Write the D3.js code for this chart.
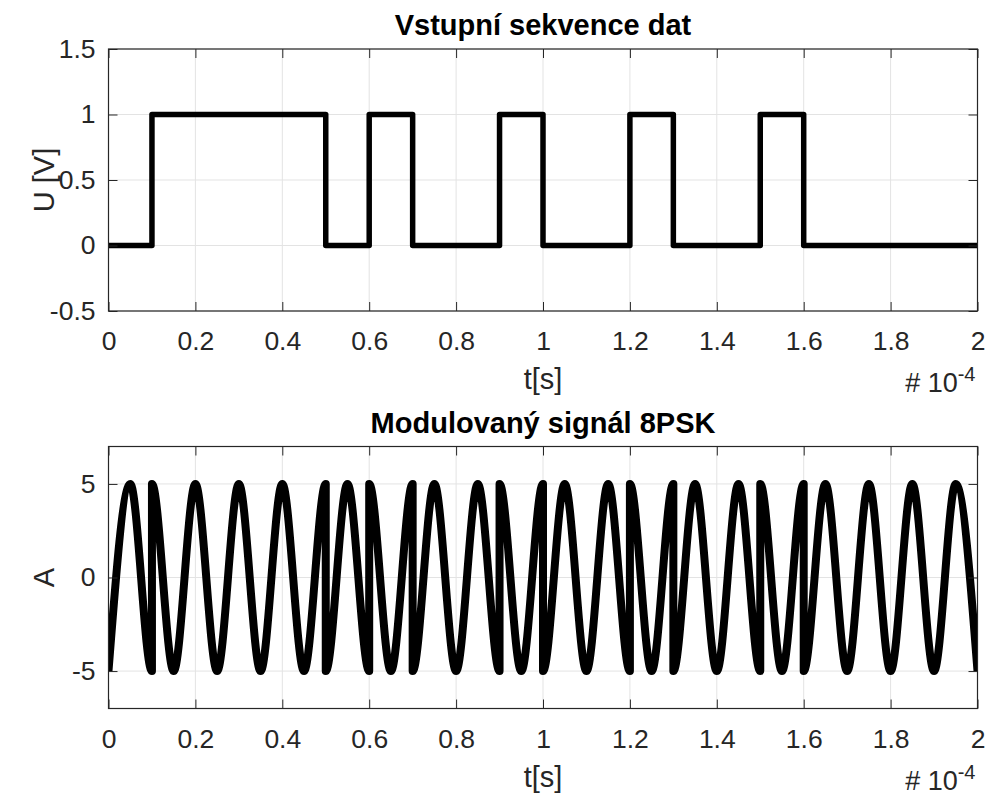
<!DOCTYPE html>
<html>
<head>
<meta charset="utf-8">
<script src="https://cdn.jsdelivr.net/npm/d3@7"></script>
<style>
  body { margin: 0; background: #fff; }
  text { font-family: "Liberation Sans", Arial, sans-serif; fill: #262626; }
</style>
</head>
<body>
<svg id="chart" width="985" height="794"></svg>
<script>
// time axis is in units of 1e-4 s
var bitTimes = [0, 0.1, 0.2, 0.3, 0.4, 0.5, 0.6, 0.7, 0.8, 0.9, 1.0, 1.1, 1.2, 1.3, 1.4, 1.5, 1.6, 1.7, 1.8, 1.9, 2.0];
var bitValues = [0, 1, 1, 1, 1, 0, 1, 0, 0, 1, 0, 0, 1, 0, 0, 1, 0, 0, 0, 0, 0];

// peaks / troughs of the modulated signal
// (a repeated time means a phase jump)
var sigTimes = [0, 0.05, 0.1, 0.1, 0.15, 0.2, 0.25, 0.3, 0.35, 0.4, 0.45, 0.5, 0.5, 0.55, 0.6, 0.6, 0.65,
                0.7, 0.7, 0.75, 0.8, 0.85, 0.9, 0.9, 0.95, 1.0, 1.0, 1.05, 1.1, 1.15, 1.2, 1.2, 1.25,
                1.3, 1.3, 1.35, 1.4, 1.45, 1.5, 1.5, 1.55, 1.6, 1.6, 1.65, 1.7, 1.75, 1.8, 1.85, 1.9, 1.95, 2.0];
var sigValues = [-5, 5, -5, 5, -5, 5, -5, 5, -5, 5, -5, 5, -5, 5, -5, 5, -5,
                 5, -5, 5, -5, 5, -5, 5, -5, 5, -5, 5, -5, 5, -5, 5, -5,
                 5, -5, 5, -5, 5, -5, 5, -5, 5, -5, 5, -5, 5, -5, 5, -5, 5, -5];

var xTicks = [0, 0.2, 0.4, 0.6, 0.8, 1, 1.2, 1.4, 1.6, 1.8, 2];
var yTicksTop = [-0.5, 0, 0.5, 1, 1.5];
var yTicksBottom = [-5, 0, 5];

var svg = d3.select("#chart");

// plain labels with a hyphen minus, like the original
function plain(d) { return String(d); }

function drawPanel(opt) {
    var x = d3.scaleLinear().domain([0, 2]).range([opt.left, opt.right]),
        y = d3.scaleLinear().domain(opt.yDomain).range([opt.bottom, opt.top]);
    var g = svg.append("g");

    // grid
    g.selectAll(".gx").data(xTicks).enter().append("line")
        .attr("x1", function (d) { return x(d); }).attr("x2", function (d) { return x(d); })
        .attr("y1", opt.top).attr("y2", opt.bottom)
        .attr("stroke", "#e3e3e3").attr("stroke-width", 1);
    g.selectAll(".gy").data(opt.yTicks).enter().append("line")
        .attr("x1", opt.left).attr("x2", opt.right)
        .attr("y1", function (d) { return y(d); }).attr("y2", function (d) { return y(d); })
        .attr("stroke", "#e3e3e3").attr("stroke-width", 1);

    // data line, clipped to the box
    var clipId = "clip" + opt.id;
    svg.append("clipPath").attr("id", clipId).append("rect")
        .attr("x", opt.left).attr("y", opt.top)
        .attr("width", opt.right - opt.left).attr("height", opt.bottom - opt.top);
    var line = d3.line()
        .x(function (d) { return x(d[0]); })
        .y(function (d) { return y(d[1]); })
        .curve(opt.curve);
    g.append("path")
        .datum(d3.zip(opt.xs, opt.ys))
        .attr("clip-path", "url(#" + clipId + ")")
        .attr("d", line)
        .attr("fill", "none")
        .attr("stroke", "#000")
        .attr("stroke-width", opt.lineWidth)
        .attr("stroke-linejoin", "round");

    // axes with inward ticks on all four sides
    var tl = 9;
    g.append("g").attr("transform", "translate(0," + opt.bottom + ")")
        .call(d3.axisBottom(x).tickValues(xTicks).tickSizeInner(-tl).tickSizeOuter(0).tickFormat(plain))
        .call(styleAxis)
        .selectAll("text").attr("dy", null).attr("y", 39).style("font-size", "26.5px");
    g.append("g").attr("transform", "translate(0," + opt.top + ")")
        .call(d3.axisTop(x).tickValues(xTicks).tickSizeInner(-tl).tickSizeOuter(0).tickFormat(""))
        .call(styleAxis);
    g.append("g").attr("transform", "translate(" + opt.left + ",0)")
        .call(d3.axisLeft(y).tickValues(opt.yTicks).tickSizeInner(-tl).tickSizeOuter(0).tickFormat(plain))
        .call(styleAxis)
        .selectAll("text").attr("x", -13).style("font-size", "26.5px");
    g.append("g").attr("transform", "translate(" + opt.right + ",0)")
        .call(d3.axisRight(y).tickValues(opt.yTicks).tickSizeInner(-tl).tickSizeOuter(0).tickFormat(""))
        .call(styleAxis);

    // title and labels
    g.append("text").attr("x", (opt.left + opt.right) / 2).attr("y", opt.top - 14)
        .attr("text-anchor", "middle").attr("font-size", 29).attr("font-weight", "bold")
        .style("fill", "#000").text(opt.title);
    g.append("text").attr("x", (opt.left + opt.right) / 2).attr("y", opt.bottom + 78)
        .attr("text-anchor", "middle").attr("font-size", 29).text("t[s]");
    g.append("text")
        .attr("transform", "translate(54," + (opt.top + opt.bottom) / 2 + ") rotate(-90)")
        .attr("text-anchor", "middle").attr("font-size", 29).text(opt.ylabel);
    var ex = g.append("text").attr("x", opt.right - 2).attr("y", opt.bottom + 81)
        .attr("text-anchor", "end").attr("font-size", 27);
    ex.append("tspan").text("# 10");
    ex.append("tspan").attr("dy", -11).attr("font-size", 20).text("-4");
}

function styleAxis(sel) {
    sel.select(".domain").remove();
    sel.selectAll(".tick line").attr("stroke", "#262626");
    sel.selectAll("text").style("fill", "#262626").attr("font-family", "Liberation Sans, Arial, sans-serif");
}

function drawBox(l, r, t, b) {
    svg.append("rect").attr("x", l).attr("y", t).attr("width", r - l).attr("height", b - t)
        .attr("fill", "none").attr("stroke", "#262626").attr("stroke-width", 1.2);
}

drawPanel({
    id: 1, left: 108.5, right: 977.5, top: 49, bottom: 311,
    yDomain: [-0.5, 1.5], yTicks: yTicksTop,
    xs: bitTimes, ys: bitValues, curve: d3.curveStepAfter, lineWidth: 5.5,
    title: "Vstupní sekvence dat", ylabel: "U [V]"
});
drawBox(108.5, 977.5, 49, 311);

drawPanel({
    id: 2, left: 108.5, right: 977.5, top: 446.5, bottom: 708.5,
    yDomain: [-7, 7], yTicks: yTicksBottom,
    xs: sigTimes, ys: sigValues, curve: d3.curveMonotoneX, lineWidth: 8,
    title: "Modulovaný signál 8PSK", ylabel: "A"
});
drawBox(108.5, 977.5, 446.5, 708.5);
</script>
</body>
</html>
